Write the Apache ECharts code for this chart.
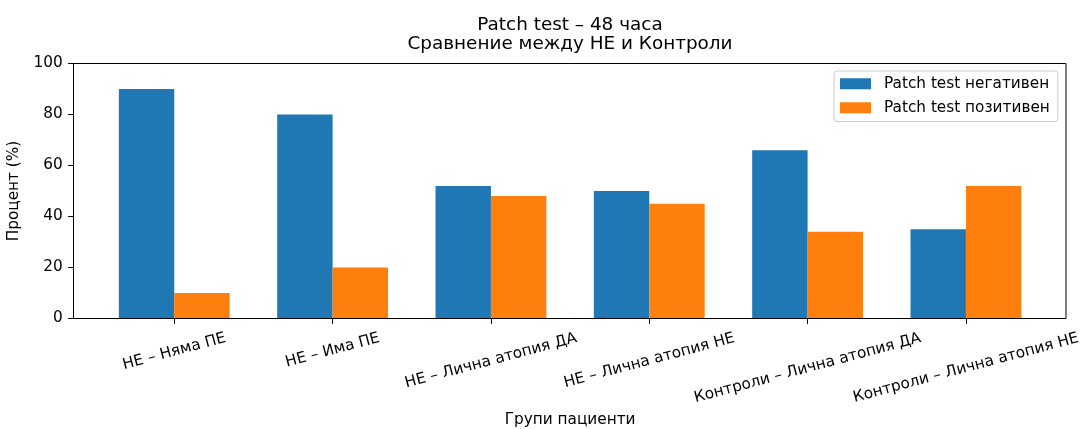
<!DOCTYPE html>
<html>
<head>
<meta charset="utf-8">
<script src="https://cdn.jsdelivr.net/npm/echarts@6/dist/echarts.min.js"></script>
<style>
html,body{margin:0;padding:0;background:#fff;}
#chart{width:1082px;height:429px;}
</style>
</head>
<body>
<div id="chart"></div>
<script>
const categories = ['НЕ – Няма ПЕ', 'НЕ – Има ПЕ', 'НЕ – Лична атопия ДА', 'НЕ – Лична атопия НЕ', 'Контроли – Лична атопия ДА', 'Контроли – Лична атопия НЕ'];
const seriesNames = ['Patch test негативен', 'Patch test позитивен'];
const negative = [90, 80, 52, 50, 66, 35];
const positive = [10, 20, 48, 45, 34, 52];
const yTicks = [0, 20, 40, 60, 80, 100];

const FONT = 'DejaVu Sans';
const FS = 15.3;
const ROT = 15;

// Emulate matplotlib's centered rotated tick labels (rotated bbox centered on tick, top below tick pad)
const ctx = document.createElement('canvas').getContext('2d');
ctx.font = FS + 'px "' + FONT + '"';
const th = ROT * Math.PI / 180;
const TH = FS * 1.17;
const rich = { t: { fontSize: FS, lineHeight: TH, color: '#000', fontFamily: FONT } };
categories.forEach(function (c, i) {
  const w = ctx.measureText(c).width;
  const H = w * Math.sin(th) + TH * Math.cos(th);
  const D = 10.7 + H / 2;
  rich['s' + i] = { fontSize: 1, height: 2 * D * Math.cos(th), lineHeight: 2 * D * Math.cos(th), fontFamily: FONT };
  rich['r' + i] = { fontSize: FS, width: 2 * D * Math.sin(th), lineHeight: TH, fontFamily: FONT };
});

const chart = echarts.init(document.getElementById('chart'), null, { renderer: 'canvas' });
chart.setOption({
  animation: false,
  backgroundColor: '#fff',
  textStyle: { fontFamily: FONT },
  title: {
    text: 'Patch test – 48 часа\nСравнение между НЕ и Контроли',
    left: 570,
    textAlign: 'center',
    top: 15,
    padding: 0,
    textStyle: { fontSize: 18.4, fontWeight: 'normal', color: '#000', fontFamily: FONT, lineHeight: 19.5 }
  },
  legend: {
    orient: 'vertical',
    left: 834,
    top: 71,
    icon: 'rect',
    itemWidth: 31,
    itemHeight: 11,
    itemGap: 6.5,
    padding: [4, 8, 5, 6],
    borderColor: '#cccccc',
    borderWidth: 1,
    borderRadius: 3,
    backgroundColor: 'rgba(255,255,255,0.8)',
    textStyle: { fontSize: FS, color: '#000', fontFamily: FONT, lineHeight: 17.5, padding: [0, 0, 0, 8] },
    data: seriesNames
  },
  grid: [
    { left: 95.1, right: 36.9, top: 63.5, bottom: 110.5, outerBoundsMode: 'none', containLabel: false },
    { left: 73.5, right: 16, top: 63.5, bottom: 110.5, outerBoundsMode: 'none', containLabel: false,
      show: true, borderColor: '#000', borderWidth: 1, backgroundColor: 'transparent', z: 10 }
  ],
  xAxis: [
    {
      gridIndex: 0,
      type: 'category',
      data: categories,
      axisLine: { show: false },
      axisTick: { show: true, alignWithLabel: true, length: 5.35, lineStyle: { color: '#000', width: 1 } },
      axisLabel: {
        rotate: ROT, interval: 0, margin: 0, align: 'center', verticalAlign: 'middle',
        fontSize: FS, color: '#000', fontFamily: FONT, hideOverlap: false,
        formatter: function (value, index) {
          return '{s' + index + '| }\n{t|' + value + '}{r' + index + '| }';
        },
        rich: rich
      },
      splitLine: { show: false },
      name: 'Групи пациенти',
      nameLocation: 'middle',
      nameGap: 91.3,
      nameTextStyle: { fontSize: FS, color: '#000', fontFamily: FONT, lineHeight: 17.8 }
    },
    { gridIndex: 1, type: 'value', show: false, min: 0, max: 1 }
  ],
  yAxis: [
    {
      gridIndex: 0,
      type: 'value',
      min: yTicks[0],
      max: yTicks[yTicks.length - 1],
      interval: yTicks[1] - yTicks[0],
      offset: 21.6,
      axisLine: { show: true, lineStyle: { color: '#000', width: 1 } },
      axisTick: { show: true, length: 5.35, lineStyle: { color: '#000', width: 1 } },
      axisLabel: { margin: 10.7, fontSize: FS, color: '#000', fontFamily: FONT },
      splitLine: { show: false },
      name: 'Процент (%)',
      nameLocation: 'middle',
      nameRotate: 90,
      nameGap: 42.5,
      nameTextStyle: { fontSize: FS, color: '#000', fontFamily: FONT, lineHeight: 17.8 }
    },
    { gridIndex: 1, type: 'value', show: false, min: 0, max: 1 }
  ],
  series: [
    { name: seriesNames[0], type: 'bar', xAxisIndex: 0, yAxisIndex: 0, data: negative,
      barWidth: '35%', barGap: '0%', itemStyle: { color: '#1f77b4' } },
    { name: seriesNames[1], type: 'bar', xAxisIndex: 0, yAxisIndex: 0, data: positive,
      barWidth: '35%', barGap: '0%', itemStyle: { color: '#ff7f0e' } }
  ]
});
</script>
</body>
</html>
